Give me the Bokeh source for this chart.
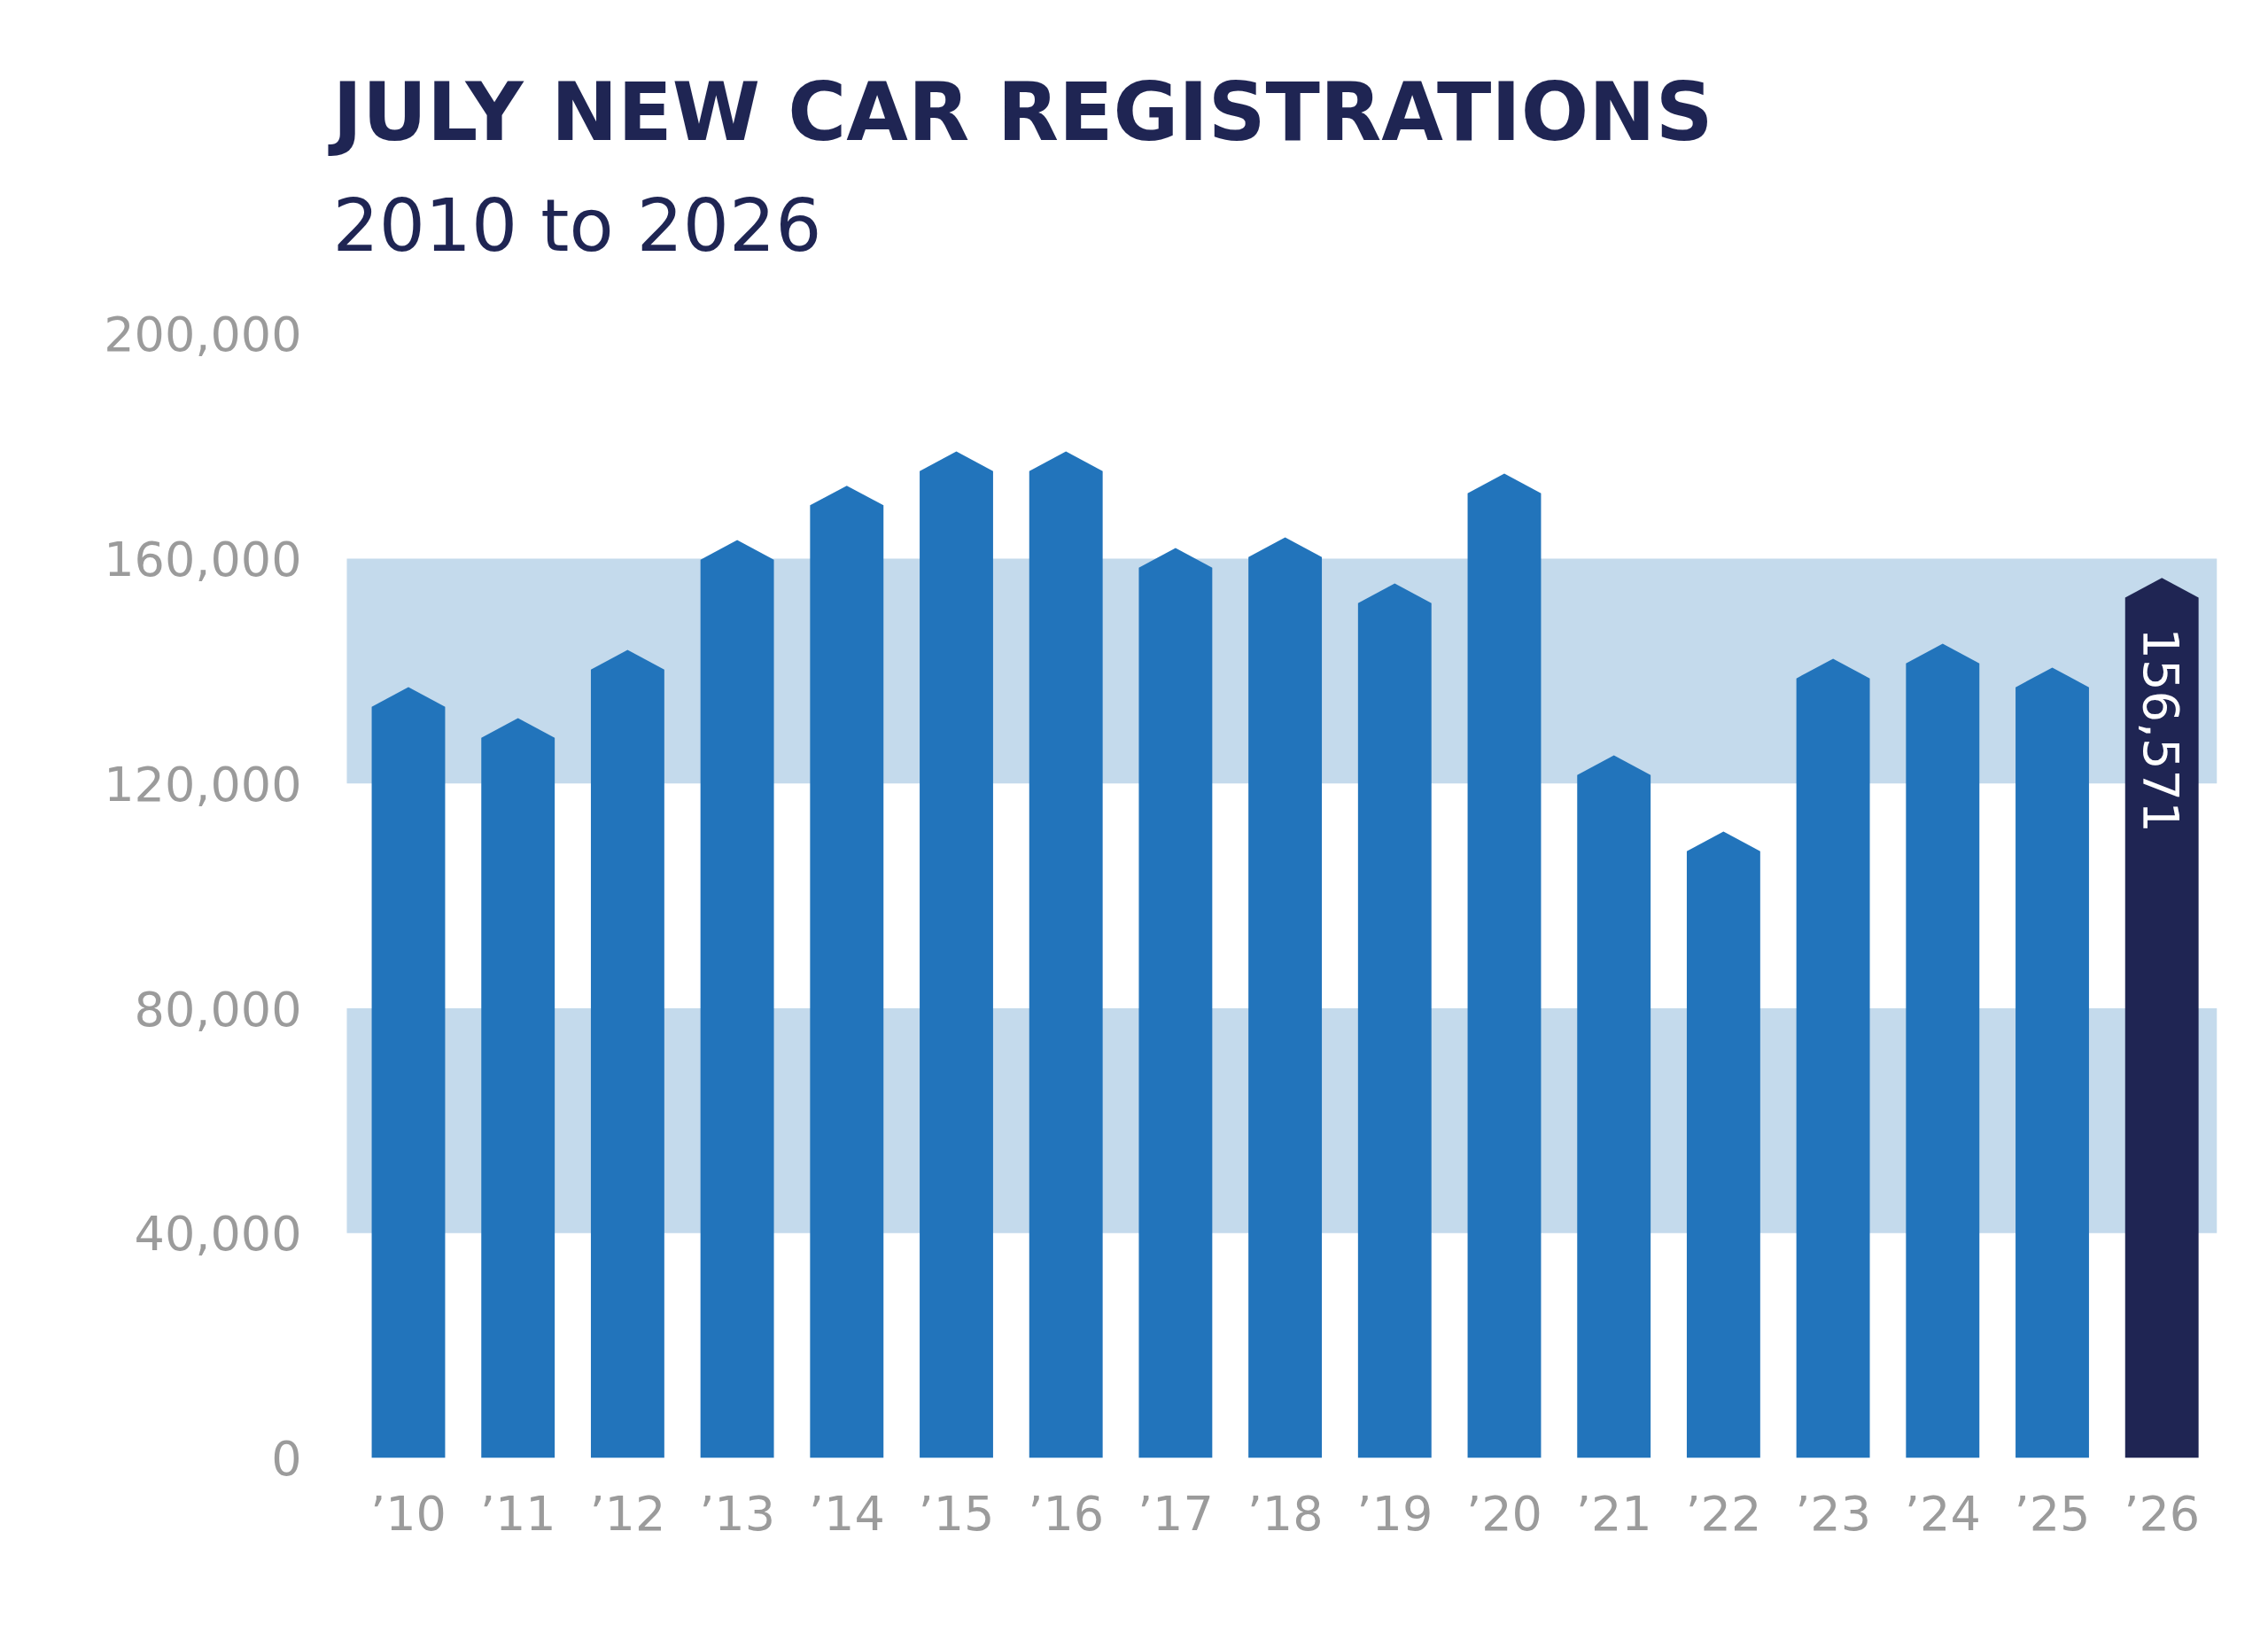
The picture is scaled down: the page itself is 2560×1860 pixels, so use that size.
import math
from bokeh.plotting import figure
from bokeh.models import FixedTicker, NumeralTickFormatter, Label, ColumnDataSource, Range1d, BoxAnnotation
from bokeh.embed import file_html
from bokeh.resources import INLINE

# ---------------- data ----------------
years = ["\u201910", "\u201911", "\u201912", "\u201913", "\u201914", "\u201915", "\u201916",
         "\u201917", "\u201918", "\u201919", "\u201920", "\u201921", "\u201922", "\u201923",
         "\u201924", "\u201925", "\u201926"]
registrations = [137150, 131630, 143770, 163310, 172980, 179080, 179080, 161890, 163790,
                 155590, 175140, 125010, 111450, 142190, 144870, 140620, 156571]
y_ticks = [0, 40000, 80000, 120000, 160000, 200000]
title_text = "JULY NEW CAR REGISTRATIONS"
subtitle_text = "2010 to 2026"

# ---------------- styling / layout ----------------
BAR_COLOR = "#2274bb"
HIGHLIGHT = "#1f2553"
BAND = "#c4daec"
GREY = "#9b9b9b"
NAVY = "#1f2553"

FIG_W, FIG_H = 2544, 1844
FRAME_L, FRAME_R, FRAME_T, FRAME_B = 362, 2502, 10, 1645   # figure pixel coords
BAND_L = 391                                               # bands start right of the frame edge
PX_PER_UNIT = 253.75 / 40000.0
X_STEP = 123.7
FIRST_X = 460.5
BAR_W = 0.67
NOTCH = 3500

x_start = (FRAME_L - FIRST_X) / X_STEP
x_end = (FRAME_R - FIRST_X) / X_STEP
band_left = (BAND_L - FIRST_X) / X_STEP
y_end = (FRAME_B - FRAME_T) / PX_PER_UNIT


def y_at(fig_py):
    return (FRAME_B - fig_py) / PX_PER_UNIT


n = len(registrations)
xs, ys, colors = [], [], []
for i, v in enumerate(registrations):
    h = BAR_W / 2
    xs.append([i - h, i - h, i, i + h, i + h])
    ys.append([0, v - NOTCH, v, v - NOTCH, 0])
    colors.append(HIGHLIGHT if i == n - 1 else BAR_COLOR)

src = ColumnDataSource(dict(xs=xs, ys=ys, color=colors))

p = figure(width=FIG_W, height=FIG_H, output_backend="svg", toolbar_location=None,
           x_range=Range1d(x_start, x_end), y_range=Range1d(0, y_end),
           min_border_left=FRAME_L, min_border_right=FIG_W - FRAME_R,
           min_border_top=FRAME_T, min_border_bottom=FIG_H - FRAME_B)
p.outline_line_color = None
p.background_fill_color = "white"
p.border_fill_color = "white"
p.xgrid.visible = False
p.ygrid.visible = False

# alternating horizontal bands (40k-80k and 120k-160k)
for lo, hi in [(y_ticks[1], y_ticks[2]), (y_ticks[3], y_ticks[4])]:
    p.add_layout(BoxAnnotation(left=band_left, bottom=lo, top=hi, fill_color=BAND,
                               fill_alpha=1.0, line_color=None, level="underlay"))

p.patches("xs", "ys", source=src, fill_color="color", line_color=None)

# axes
p.yaxis.ticker = FixedTicker(ticks=y_ticks)
p.yaxis.formatter = NumeralTickFormatter(format="0,0")
p.xaxis.ticker = FixedTicker(ticks=list(range(n)))
p.xaxis.major_label_overrides = {i: years[i] for i in range(n)}
for ax in (p.xaxis, p.yaxis):
    ax.axis_line_color = None
    ax.major_tick_line_color = None
    ax.minor_tick_line_color = None
    ax.major_tick_in = 0
    ax.major_tick_out = 0
    ax.major_label_text_font = "DejaVu Sans"
    ax.major_label_text_font_size = "54px"
    ax.major_label_text_color = GREY
p.yaxis.major_label_standoff = 22
p.xaxis.major_label_standoff = 31

# title and subtitle
p.add_layout(Label(x=x_start, y=y_at(126), x_offset=13, text=title_text,
                   text_font="DejaVu Sans", text_font_style="bold", text_font_size="90px",
                   text_color=NAVY, text_baseline="alphabetic", text_align="left"))
p.add_layout(Label(x=x_start, y=y_at(254), x_offset=13, text=subtitle_text,
                   text_font="DejaVu Sans", text_font_size="82px",
                   text_color=NAVY, text_baseline="alphabetic", text_align="left"))

# value label on the highlighted bar
p.add_layout(Label(x=n - 1, y=registrations[-1], y_offset=-56, angle=-math.pi / 2,
                   text=f"{registrations[-1]:,}", text_font="DejaVu Sans",
                   text_font_size="56px", text_color="white",
                   text_align="left", text_baseline="middle"))

open("out.html", "w").write(file_html(p, INLINE))
